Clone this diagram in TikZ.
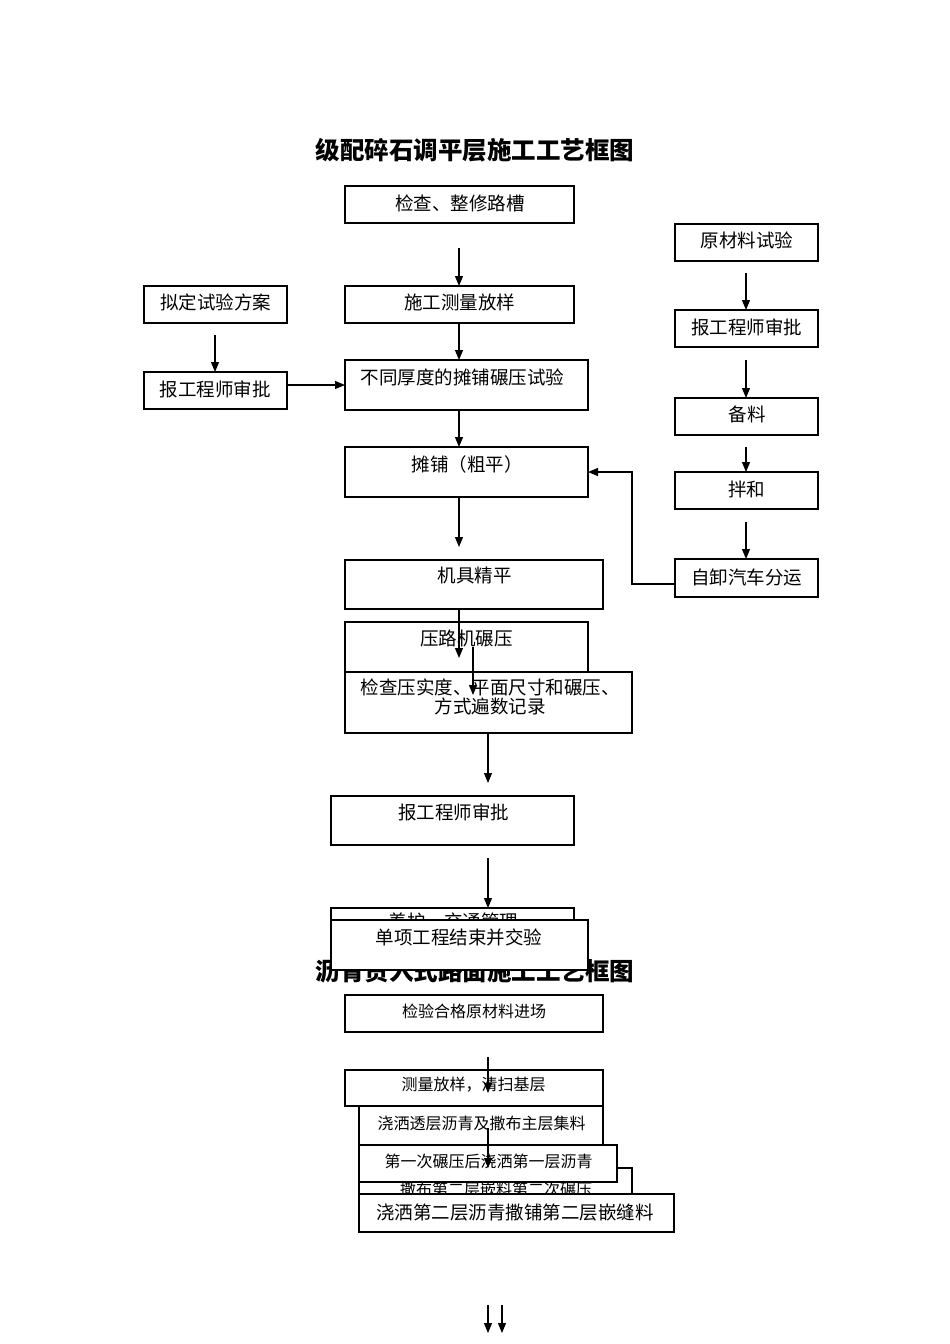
\documentclass[tikz,border=0pt]{standalone}
\usepackage{fontspec}
\usetikzlibrary{arrows.meta}
\newfontfamily\cjk{Noto Sans CJK SC}
\newcommand\bx[5]{\node[box,minimum width={(#4-#2)*1pt},minimum height={(#5-#3)*1pt},anchor=north west] (#1) at (#2,#3) {};}
\begin{document}
\begin{tikzpicture}[x=1pt,y=-1pt,
  box/.style={draw,fill=white,line width=1.1pt,inner sep=0pt,outer sep=0pt},
  txt/.style={inner sep=0pt,font=\cjk\fontsize{18.5}{21}\selectfont,align=center},
  txts/.style={inner sep=0pt,font=\cjk\fontsize{16}{18}\selectfont,align=center},
  ttl/.style={inner sep=0pt,font=\cjk\bfseries\fontsize{24.5}{27}\selectfont},
  arr/.style={line width=1.1pt,-{Triangle[length=10pt,width=8pt]}}]
\useasboundingbox (0,0) rectangle (950,1344);
\fill[white] (0,0) rectangle (950,1344);
% title 1
\node[ttl] (title1) at (475,150) {级配碎石调平层施工工艺框图};
% upper flow
\bx{b1}{345}{186}{574}{223}
\node[txt] (t1) at (460,203) {检查、整修路槽};
\bx{b2}{675}{224}{818}{261}
\node[txt] (t2) at (747,240) {原材料试验};
\bx{b3}{345}{286}{574}{323}
\node[txt] (t3) at (459.5,302) {施工测量放样};
\bx{b4}{144}{286}{287}{323}
\node[txt] (t4) at (215.5,302) {拟定试验方案};
\bx{b5}{144}{372}{287}{409}
\node[txt] (t5) at (215,389) {报工程师审批};
\bx{b6}{345}{360}{588}{410}
\node[txt] (t6) at (462.5,377) {不同厚度的摊铺碾压试验};
\bx{b7}{675}{310}{818}{347}
\node[txt] (t7) at (746.5,327) {报工程师审批};
\bx{b8}{675}{398}{818}{435}
\node[txt] (t8) at (747,414) {备料};
\bx{b9}{675}{472}{818}{509}
\node[txt] (t9) at (746.5,489) {拌和};
\bx{b10}{675}{559}{818}{597}
\node[txt] (t10) at (746.5,577) {自卸汽车分运};
\bx{b11}{345}{447}{588}{497}
\node[txt] (t11) at (467,464) {摊铺（粗平）};
\bx{b12}{345}{560}{603}{609}
\node[txt] (t12) at (474.5,575) {机具精平};
\bx{b13}{345}{622}{588}{690}
\node[txt] (t13) at (466.5,638) {压路机碾压};
\bx{b14}{345}{672}{632}{733}
\node[txt] (t14) at (490,697) {检查压实度、平面尺寸和碾压、\\[-1.5pt]方式遍数记录};
\bx{b15}{331}{796}{574}{845}
\node[txt] (t15) at (453.5,812) {报工程师审批};
\bx{b16}{331}{908}{574}{955}
\node[txt] (t16) at (453.5,921.5) {养护、交通管理};
% title 2 (partly covered)
\node[ttl] (title2) at (475,971) {沥青贯入式路面施工工艺框图};
\bx{b17}{331}{920}{588}{970}
\node[txt] (t17) at (459,937) {单项工程结束并交验};
% lower flow
\bx{b18}{345}{995}{603}{1032}
\node[txts] (t18) at (474,1011) {检验合格原材料进场};
\bx{b19}{359}{1105}{603}{1150}
\node[txts] (t19) at (481.5,1123) {浇洒透层沥青及撒布主层集料};
\bx{b20}{345}{1070}{603}{1106}
\node[txts] (t20) at (473.5,1085) {测量放样，清扫基层};
\bx{b21}{359}{1168}{632}{1206}
\node[txts] (t21) at (496,1189) {撒布第二层嵌料第二次碾压};
\bx{b22}{359}{1145}{617}{1182}
\node[txts] (t22) at (488.5,1161) {第一次碾压后浇洒第一层沥青};
\bx{b23}{359}{1194}{674}{1232}
\node[txt] (t23) at (515,1212) {浇洒第二层沥青撒铺第二层嵌缝料};
% free ends
\coordinate (s1) at (459,248);
\coordinate (s3) at (215,335);
\coordinate (s5) at (746,273);
\coordinate (s6) at (746,360);
\coordinate (s7) at (746,447);
\coordinate (s8) at (746,522);
\coordinate (e10) at (459,547);
\coordinate (e12) at (459,658);
\coordinate (s13) at (473,647);
\coordinate (e13) at (473,695);
\coordinate (e14) at (488,783);
\coordinate (s15) at (488,858);
\coordinate (s16) at (488,1057);
\coordinate (e16) at (488,1093);
\coordinate (s17) at (488,1128);
\coordinate (e17) at (488,1168);
\coordinate (s18) at (488,1305);
\coordinate (e18) at (488,1333);
\coordinate (s19) at (502,1305);
\coordinate (e19) at (502,1333);
\coordinate (k1) at (632,584);
\coordinate (k2) at (632,472);
% arrows
\draw[arr] (s1) -- (b3.north -| s1);
\draw[arr] (b3.south -| s1) -- (b6.north -| s1);
\draw[arr] (s3) -- (b5.north -| s3);
\draw[arr] (b5.east |- b6.west) -- (b6.west);
\draw[arr] (s5) -- (b7.north -| s5);
\draw[arr] (s6) -- (b8.north -| s6);
\draw[arr] (s7) -- (b9.north -| s7);
\draw[arr] (s8) -- (b10.north -| s8);
\draw[arr] (b6.south -| s1) -- (b11.north -| s1);
\draw[arr] (b11.south -| s1) -- (e10);
\draw[arr] (b10.west |- k1) -- (k1) -- (k2) -- (b11.east);
\draw[arr] (b12.south -| e12) -- (e12);
\draw[arr] (s13) -- (e13);
\draw[arr] (b14.south -| e14) -- (e14);
\draw[arr] (s15) -- (b16.north -| s15);
\draw[arr] (s16) -- (e16);
\draw[arr] (s17) -- (e17);
\draw[arr] (s18) -- (e18);
\draw[arr] (s19) -- (e19);
\end{tikzpicture}
\end{document}
